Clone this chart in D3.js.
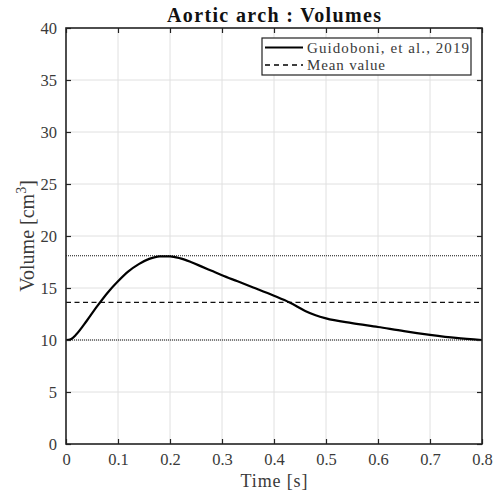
<!DOCTYPE html>
<html><head><meta charset="utf-8">
<script src="https://cdn.jsdelivr.net/npm/d3@7"></script>
<style>body{margin:0;background:#fff}svg{display:block}</style>
</head><body>
<svg id="c" width="498" height="495"></svg>
<script>
const times = [0,0.005,0.01,0.02,0.04,0.06,0.08,0.10,0.12,0.14,0.16,0.18,0.20,0.22,0.24,0.26,0.28,0.30,0.33,0.36,0.40,0.43,0.46,0.48,0.50,0.55,0.60,0.65,0.70,0.75,0.80];
const volumes = [10.0,10.02,10.1,10.55,11.85,13.25,14.55,15.65,16.6,17.3,17.8,18.05,18.05,17.85,17.5,17.08,16.65,16.22,15.64,15.05,14.25,13.6,12.8,12.38,12.08,11.62,11.25,10.85,10.5,10.2,10.0];
const meanValue = 13.62;
const maxValue = 18.1;
const minValue = 10.0;
const xTicks = [0,0.1,0.2,0.3,0.4,0.5,0.6,0.7,0.8];
const yTicks = [0,5,10,15,20,25,30,35,40];
const legendLabels = ["Guidoboni, et al., 2019","Mean value"];

const font = "'Liberation Serif', 'DejaVu Serif', serif";
const svg = d3.select("#c");
const m = {l:66, r:16, t:28, b:51};
const W = 498, H = 495;
const x = d3.scaleLinear().domain([0,0.8]).range([m.l, W-m.r]);
const y = d3.scaleLinear().domain([0,40]).range([H-m.b, m.t]);

// grid
svg.append("g").selectAll("line").data(xTicks.slice(1,-1)).join("line")
  .attr("x1",d=>x(d)).attr("x2",d=>x(d)).attr("y1",y(0)).attr("y2",y(40))
  .attr("stroke","#e0e0e0").attr("stroke-width",1);
svg.append("g").selectAll("line").data(yTicks.slice(1,-1)).join("line")
  .attr("y1",d=>y(d)).attr("y2",d=>y(d)).attr("x1",x(0)).attr("x2",x(0.8))
  .attr("stroke","#e0e0e0").attr("stroke-width",1);

// reference lines
[maxValue,minValue].forEach(v=>{
  svg.append("line").attr("x1",x(0)).attr("x2",x(0.8)).attr("y1",y(v)).attr("y2",y(v))
    .attr("stroke","#111").attr("stroke-width",1.2).attr("stroke-dasharray","1,1");
});
svg.append("line").attr("x1",x(0)).attr("x2",x(0.8)).attr("y1",y(meanValue)).attr("y2",y(meanValue))
  .attr("stroke","#111").attr("stroke-width",1.2).attr("stroke-dasharray","5,3.5");

// curve
const line = d3.line().x((d,i)=>x(times[i])).y(d=>y(d)).curve(d3.curveMonotoneX);
svg.append("path").datum(volumes).attr("d",line).attr("fill","none")
  .attr("stroke","#000").attr("stroke-width",2.2).attr("stroke-linejoin","round");

// axes
const xa = svg.append("g").attr("transform",`translate(0,${y(0)})`)
  .call(d3.axisBottom(x).tickValues(xTicks).tickFormat(d=>d3.format("")(d)).tickSizeInner(-5).tickSizeOuter(0).tickPadding(9));
const ya = svg.append("g").attr("transform",`translate(${x(0)},0)`)
  .call(d3.axisLeft(y).tickValues(yTicks).tickSizeInner(-5).tickSizeOuter(0).tickPadding(9));
const xt = svg.append("g").attr("transform",`translate(0,${y(40)})`)
  .call(d3.axisTop(x).tickValues(xTicks).tickFormat("").tickSizeInner(-5).tickSizeOuter(0));
const yr = svg.append("g").attr("transform",`translate(${x(0.8)},0)`)
  .call(d3.axisRight(y).tickValues(yTicks).tickFormat("").tickSizeInner(-5).tickSizeOuter(0));
[xa,ya,xt,yr].forEach(g=>{
  g.select(".domain").remove();
  g.selectAll("line").attr("stroke","#222").attr("stroke-width",1.2);
  g.selectAll("text").attr("font-family",font).attr("font-size",16.5).attr("fill","#3a3a3a");
});
svg.append("rect").attr("x",x(0)).attr("y",y(40)).attr("width",x(0.8)-x(0)).attr("height",y(0)-y(40))
  .attr("fill","none").attr("stroke","#222").attr("stroke-width",1.6);

// title and labels
svg.append("text").attr("x",(x(0)+x(0.8))/2).attr("y",22).attr("text-anchor","middle")
  .attr("font-family",font).attr("font-weight","bold").attr("font-size",20).attr("fill","#111")
  .attr("textLength",214).attr("lengthAdjust","spacing")
  .text("Aortic arch : Volumes");
svg.append("text").attr("x",(x(0)+x(0.8))/2).attr("y",487).attr("text-anchor","middle")
  .attr("font-family",font).attr("font-size",18).attr("fill","#3a3a3a")
  .attr("textLength",67).attr("lengthAdjust","spacing").text("Time [s]");
const yl = svg.append("text").attr("transform",`translate(34,${(y(0)+y(40))/2}) rotate(-90)`)
  .attr("text-anchor","middle").attr("font-family",font).attr("font-size",20).attr("fill","#3a3a3a");
yl.append("tspan").text("Volume [cm");
yl.append("tspan").attr("dy",-8).attr("font-size",14).text("3");
yl.append("tspan").attr("dy",8).text("]");

// legend
const lg = svg.append("g");
lg.append("rect").attr("x",262).attr("y",38).attr("width",209).attr("height",37)
  .attr("fill","#fff").attr("stroke","#222").attr("stroke-width",1.2);
const dashes = [null,"5,4"];
legendLabels.forEach((t,i)=>{
  const cy = 47.5 + i*17.5;
  lg.append("line").attr("x1",265).attr("x2",303).attr("y1",cy).attr("y2",cy)
    .attr("stroke","#000").attr("stroke-width",i===0?2:1.5).attr("stroke-dasharray",dashes[i]);
  const tx = lg.append("text").attr("x",307).attr("y",cy+5).attr("font-family",font).attr("font-size",15)
    .attr("fill","#3a3a3a").text(t);
  if(i===0) tx.attr("textLength",162).attr("lengthAdjust","spacing");
  else tx.attr("textLength",78).attr("lengthAdjust","spacing");
});
</script>
</body></html>
